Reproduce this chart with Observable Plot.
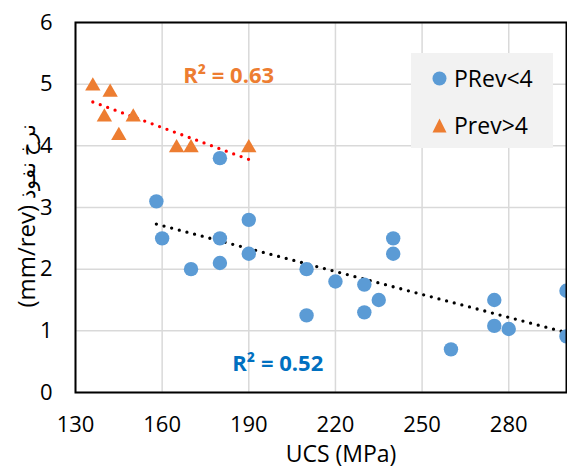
<!DOCTYPE html>
<html><head><meta charset="utf-8">
<script src="https://cdn.jsdelivr.net/npm/d3@7"></script>
<script src="https://cdn.jsdelivr.net/npm/@observablehq/plot@0.6"></script>
<style>
body{margin:0;background:#fff;font-family:"Open Sans",sans-serif;}
#wrap{position:relative;width:567px;height:476px;}
#legend{position:absolute;left:411px;top:53px;width:142px;height:95px;background:#F2F2F2;}
.item{position:absolute;left:0;height:30px;display:flex;align-items:center;font-size:23px;color:#000;}
.item svg{margin-left:21px;margin-right:7px;}
</style></head>
<body><div id="wrap"></div>
<script>
// Data: UCS (MPa) vs penetration rate (mm/rev)
const blueX = [180,158,190,160,180,170,180,190,210,210,220,230,230,235,240,240,260,275,275,280,300,300];
const blueY = [3.8,3.1,2.8,2.5,2.5,2.0,2.1,2.25,2.0,1.25,1.8,1.75,1.3,1.5,2.5,2.25,0.7,1.5,1.08,1.03,1.65,0.91];
const orangeX = [136,142,140,145,150,165,170,190];
const orangeY = [5.0,4.9,4.5,4.2,4.5,4.0,4.0,4.0];
const seriesNames = ["PRev<4","Prev>4"];
const xTicks = [130,160,190,220,250,280];
const yTicks = [0,1,2,3,4,5,6];
const r2Text = ["R² = 0.52","R² = 0.63"];
const r2X = [184.3,167.3];
const r2Y = [0.47,5.14];
const xTitle = "UCS (MPa)";
const yTitleUnit = "(mm/rev)";
const yTitleName = "نرخ نفوذ";

const blue = blueX.map((x,i)=>({x, y: blueY[i]}));
const orange = orangeX.map((x,i)=>({x, y: orangeY[i]}));
const r2 = r2Text.map((t,i)=>({t, x: r2X[i], y: r2Y[i], c: i===0 ? "#0070C0" : "#ED7D31"}));

const plot = Plot.plot({
  width: 567, height: 476,
  marginLeft: 75, marginRight: 1, marginTop: 22, marginBottom: 84,
  style: {fontFamily: "Open Sans", fontSize: "22px", background: "white", overflow: "visible"},
  x: {domain: [130,300]},
  y: {domain: [0,6]},
  marks: [
    Plot.gridX(xTicks, {stroke: "#D9D9D9", strokeOpacity: 1, strokeWidth: 1.5}),
    Plot.gridY(yTicks, {stroke: "#D9D9D9", strokeOpacity: 1, strokeWidth: 1.5}),
    Plot.axisX({ticks: xTicks, tickSize: 0, tickPadding: 24, fontSize: 22, label: null, tickFormat: d => String(d)}),
    Plot.axisY({ticks: yTicks, tickSize: 0, tickPadding: 23, fontSize: 22, label: null, tickFormat: d => String(d)}),
    Plot.linearRegressionY(orange, {x: "x", y: "y", ci: 0, stroke: "#FF0000", strokeWidth: 3.3, strokeDasharray: "0 7.9", strokeLinecap: "round"}),
    Plot.linearRegressionY(blue, {x: "x", y: "y", ci: 0, stroke: "#000000", strokeWidth: 3.3, strokeDasharray: "0 7.9", strokeLinecap: "round"}),
    Plot.dot(blue, {x: "x", y: "y", r: 7.2, fill: "#5B9BD5", stroke: "none", clip: true}),
    Plot.dot(orange, {x: "x", y: "y", r: 5.7, symbol: "triangle", fill: "#ED7D31", stroke: "none", dy: 2}),
    Plot.text(r2, {x: "x", y: "y", text: "t", fill: "c", textAnchor: "start", fontWeight: "bold", fontSize: 22}),
    Plot.frame({stroke: "black", strokeWidth: 2}),
    Plot.text([xTitle], {frameAnchor: "bottom", text: d => d, dx: 20, dy: 69, fontSize: 23, fill: "#000"}),
    Plot.text([yTitleUnit], {frameAnchor: "left", text: d => d, dx: -48, dy: 100, rotate: -90, textAnchor: "start", fontSize: 24, fill: "#000"}),
    Plot.text([yTitleName], {frameAnchor: "left", text: d => d, dx: -47, dy: -9, rotate: -90, textAnchor: "start", fontSize: 21, fill: "#000"})
  ]
});
const wrap = document.getElementById("wrap");
wrap.appendChild(plot);

// Legend
const legend = document.createElement("div");
legend.id = "legend";
const symbols = [
  `<svg width="15" height="15"><circle cx="7.5" cy="7.5" r="7" fill="#5B9BD5"/></svg>`,
  `<svg width="15" height="15"><path d="M7.5,0.5L14.5,14.5L0.5,14.5Z" fill="#ED7D31"/></svg>`
];
seriesNames.forEach((name,i)=>{
  const it = document.createElement("div");
  it.className = "item";
  it.style.top = (i===0 ? 10 : 57) + "px";
  it.innerHTML = symbols[i] + `<span>${name.replace("<","&lt;").replace(">","&gt;")}</span>`;
  legend.appendChild(it);
});
wrap.appendChild(legend);
</script>
</body></html>
